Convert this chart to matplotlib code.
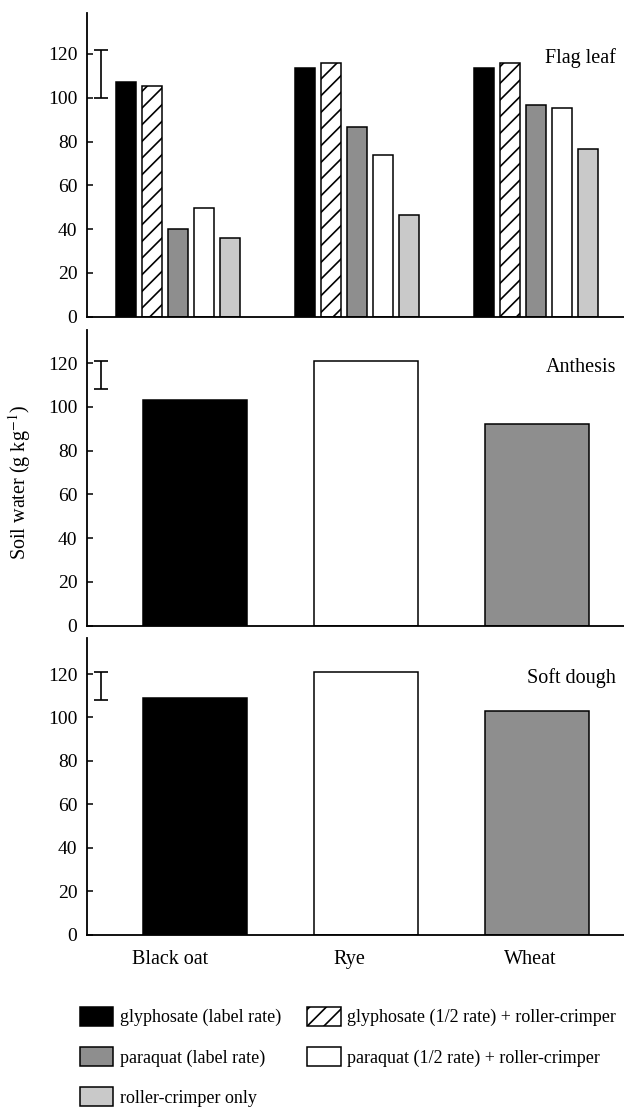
import numpy as np
import matplotlib
matplotlib.use("Agg")
import matplotlib.pyplot as plt

plt.rcParams['font.family'] = ['Liberation Serif', 'DejaVu Serif']
plt.rcParams['mathtext.fontset'] = 'stix'
plt.rcParams['hatch.linewidth'] = 1.2

# --- data ---
crops = ['Black oat', 'Rye', 'Wheat']
treatments = ['glyphosate (label rate)',
              'glyphosate (1/2 rate) + roller-crimper',
              'paraquat (label rate)',
              'paraquat (1/2 rate) + roller-crimper',
              'roller-crimper only']

flag_glyphosate = [107, 113.4, 113.6]
flag_glyphosate_half = [105.5, 116, 116]
flag_paraquat = [40, 86.5, 96.5]
flag_paraquat_half = [49.5, 74, 95.5]
flag_roller = [36, 46.3, 76.5]

anthesis = [103, 121, 92]
soft_dough = [108.8, 121, 103]

stages = ['Flag leaf', 'Anthesis', 'Soft dough']
lsd_low = [100, 108, 108]
lsd_high = [122, 121, 121]

# --- styles ---
styles = [
    dict(color='black', hatch=None),
    dict(color='white', hatch='//'),
    dict(color='#8e8e8e', hatch=None),
    dict(color='white', hatch=None),
    dict(color='#c9c9c9', hatch=None),
]
single_styles = [styles[0], styles[3], styles[2]]

fig = plt.figure(figsize=(6.24, 11.08), dpi=100)
W, H = 624.0, 1108.0
left_px, right_px = 87, 624
# (top px, bottom px, ymax) per panel
panel_px = [(13, 316.7, 138.7), (330, 625.7, 135.2), (638, 934.7, 136.6)]

axes = []
for top, bot, ymax in panel_px:
    ax = fig.add_axes([left_px / W, 1 - bot / H, (right_px - left_px) / W, (bot - top) / H])
    ax.set_xlim(-0.506, 2.494)
    ax.set_ylim(0, ymax)
    ax.spines['top'].set_visible(False)
    ax.spines['right'].set_visible(False)
    for s in ('left', 'bottom'):
        ax.spines[s].set_linewidth(1.3)
    ax.set_yticks(np.arange(0, 121, 20))
    ax.tick_params(axis='y', direction='in', length=4, width=1.1, pad=7, labelsize=14)
    ax.tick_params(axis='x', length=0)
    ax.set_xticks([])
    axes.append(ax)

x = np.arange(len(crops))
offset = 0.1453
width = 0.112
flag_series = [flag_glyphosate, flag_glyphosate_half, flag_paraquat,
               flag_paraquat_half, flag_roller]
handles = []
for i, vals in enumerate(flag_series):
    st = styles[i]
    b = axes[0].bar(x + (i - 2) * offset, vals, width, facecolor=st['color'],
                    edgecolor='black', linewidth=1.1, hatch=st['hatch'],
                    label=treatments[i])
    handles.append(b)

single_pos = np.array([0.098, 1.053, 2.008])
for ax, vals in zip(axes[1:], [anthesis, soft_dough]):
    for j, v in enumerate(vals):
        st = single_styles[j]
        ax.bar(single_pos[j], v, 0.581, facecolor=st['color'], edgecolor='black',
               linewidth=1.1, hatch=st['hatch'])

for ax, name, lo, hi in zip(axes, stages, lsd_low, lsd_high):
    ax.errorbar(-0.429, (lo + hi) / 2, yerr=(hi - lo) / 2, fmt='none',
                ecolor='black', elinewidth=1.2, capsize=4.7, capthick=1.2)
    ax.text(0.985, 118, name, transform=ax.get_yaxis_transform(),
            ha='right', va='center', fontsize=14.5)

axes[2].set_xticks([-0.04, 0.962, 1.972])
axes[2].set_xticklabels(crops, fontsize=14.5)
axes[2].tick_params(axis='x', pad=11)

fig.text(20 / W, 1 - 483 / H, 'Soil water (g kg$^{-1}$)', rotation=90,
         ha='center', va='center', fontsize=14.5)

order = [0, 2, 4, 1, 3]
fig.legend([handles[i] for i in order], [treatments[i] for i in order],
           ncol=2, loc='upper left', bbox_to_anchor=(80 / W, 1 - 1007 / H),
           frameon=False, fontsize=13, handlelength=1.85, handleheight=1.2,
           handletextpad=0.35, columnspacing=1.45, labelspacing=1.15,
           borderpad=0, borderaxespad=0)

fig.savefig('out.png', dpi=100)
